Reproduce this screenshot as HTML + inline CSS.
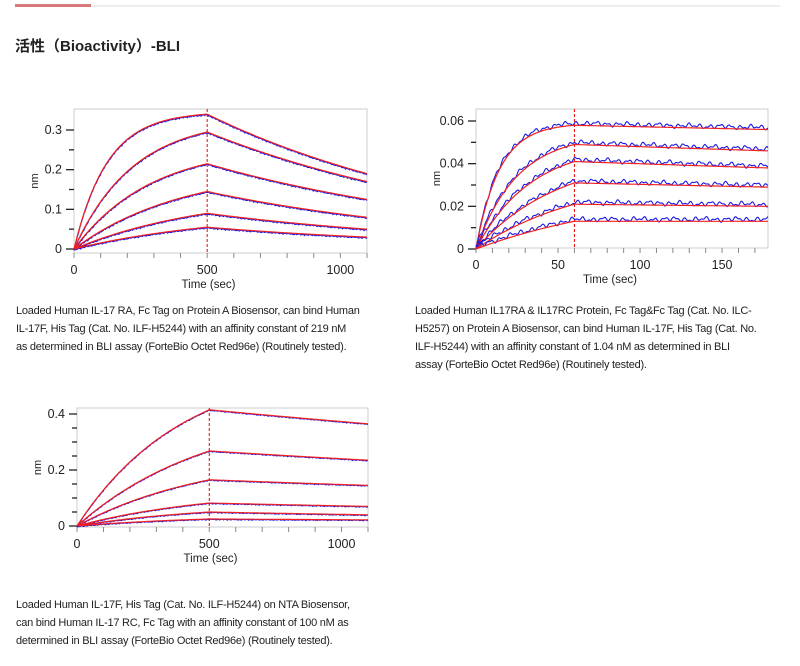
<!DOCTYPE html>
<html><head><meta charset="utf-8"><style>
body{margin:0;background:#fff;width:800px;height:666px;position:relative;overflow:hidden;font-family:"Liberation Sans","Noto Sans CJK SC",sans-serif;}
.abs{position:absolute}
.cap{position:absolute;font-size:11px;line-height:18px;color:#222;letter-spacing:-0.25px;white-space:nowrap}
svg text{font-family:"Liberation Sans",sans-serif;fill:#222}
</style></head><body>
<div class="abs" style="left:15px;top:5px;width:765px;height:2px;background:#eee"></div>
<div class="abs" style="left:15px;top:4px;width:76px;height:3px;background:#d87a7a"></div>
<div class="abs" style="left:15px;top:35px;font-size:15px;font-weight:bold;color:#222">活性（Bioactivity）-BLI</div>
<svg class="abs" style="left:0;top:0" width="800" height="666" id="svg"></svg>
<div class="cap" style="left:16px;top:302px">Loaded Human IL-17 RA, Fc Tag on Protein A Biosensor, can bind Human<br>IL-17F, His Tag (Cat. No. ILF-H5244) with an affinity constant of 219 nM<br>as determined in BLI assay (ForteBio Octet Red96e) (Routinely tested).</div>
<div class="cap" style="left:415px;top:302px">Loaded Human IL17RA &amp; IL17RC Protein, Fc Tag&amp;Fc Tag (Cat. No. ILC-<br>H5257) on Protein A Biosensor, can bind Human IL-17F, His Tag (Cat. No.<br>ILF-H5244) with an affinity constant of 1.04 nM as determined in BLI<br>assay (ForteBio Octet Red96e) (Routinely tested).</div>
<div class="cap" style="left:16px;top:596px">Loaded Human IL-17F, His Tag (Cat. No. ILF-H5244) on NTA Biosensor,<br>can bind Human IL-17 RC, Fc Tag with an affinity constant of 100 nM as<br>determined in BLI assay (ForteBio Octet Red96e) (Routinely tested).</div>
<script>
// Chart 1
const c1Peak=[0.34,0.295,0.215,0.145,0.09,0.055];
const c1End=[0.19,0.17,0.125,0.08,0.05,0.03];
const c1Kobs=[0.008,0.0045,0.0035,0.0025,0.002,0.0018];
const c1YTicks=[0,0.1,0.2,0.3];
const c1XTicks=[0,500,1000];
// Chart 2
const c2Peak=[0.058,0.049,0.041,0.031,0.021,0.013];
const c2End=[0.056,0.046,0.038,0.029,0.020,0.013];
const c2Kobs=[0.07,0.04,0.03,0.02,0.015,0.01];
const c2YTicks=[0,0.02,0.04,0.06];
const c2XTicks=[0,50,100,150];
// Chart 3
const c3Peak=[0.415,0.268,0.165,0.082,0.05,0.025];
const c3End=[0.365,0.235,0.145,0.07,0.04,0.022];
const c3Kobs=[0.0025,0.002,0.002,0.002,0.002,0.002];
const c3YTicks=[0,0.2,0.4];
const c3XTicks=[0,500,1000];

const svg=document.getElementById('svg');
const NS='http://www.w3.org/2000/svg';
function mk(tag,attrs,parent){const e=document.createElementNS(NS,tag);for(const k in attrs)e.setAttribute(k,attrs[k]);(parent||svg).appendChild(e);return e;}

function chart(o){
  const g=mk('g',{});
  
  
  const X=v=>o.x0+(v-o.xmin)/(o.xmax-o.xmin)*(o.x1-o.x0);
  const Y=v=>o.yb-(v/o.ymax)*(o.yb-o.yt);
  const box=mk('rect',{x:o.x0,y:o.top,width:o.x1-o.x0,height:o.bot-o.top,fill:'none',stroke:'#ccc','stroke-width':1},g);
  
  
  for(let v=0;v<=o.ymax+1e-9;v+=o.yminor){
    const major=o.yTicks.some(t=>Math.abs(t-v)<1e-9);
    mk('line',{x1:o.x0-(major?8:5),x2:o.x0,y1:Y(v),y2:Y(v),stroke:'#222','stroke-width':1.3},g);
  }
  o.yTicks.forEach(t=>{const tx=mk('text',{x:o.x0-12,y:Y(t)+4,'font-size':12.5,'text-anchor':'end'},g);tx.textContent=String(t);
    });
  for(let v=o.xmin;v<=o.xmax+1e-9;v+=o.xminor){
    mk('line',{x1:X(v),x2:X(v),y1:o.bot,y2:o.bot+5,stroke:'#888','stroke-width':1},g);
  }
  o.xTicks.forEach(t=>{const tx=mk('text',{x:X(t),y:o.bot+21,'font-size':12.5,'text-anchor':'middle'},g);tx.textContent=String(t);
    });
  const xl=mk('text',{x:(o.x0+o.x1)/2-12,y:o.bot+35,'font-size':11.5,'text-anchor':'middle'},g);
  xl.textContent='Time (sec)';
  
  const yl=mk('text',{x:0,y:0,'font-size':11,'text-anchor':'middle',transform:`translate(${o.x0-36},${(o.top+o.bot)/2}) rotate(-90)`},g);
  yl.textContent='nm';
  const dl=mk('line',{x1:X(o.xt),x2:X(o.xt),y1:o.top,y2:o.bot,stroke:'#e00','stroke-width':1,'stroke-dasharray':'3,2'},g);
  
  o.peak.forEach((p,i)=>{
    const k=o.kobs[i];const req=p/(1-Math.exp(-k*(o.xt-o.xmin)));
    const kd=Math.log(p/o.end[i])/(o.xmax-o.xt);
    const f=t=>t<=o.xt?req*(1-Math.exp(-k*(t-o.xmin))):p*Math.exp(-kd*(t-o.xt));
    let dFit='',dObs='';const N=300;
    for(let j=0;j<=N;j++){const t=o.xmin+(o.xmax-o.xmin)*j/N;
      const q=j*o.freq;
      const w=o.noise*(Math.sin(q*1.7+i*3)+0.7*Math.sin(q*3.1+i)+0.5*Math.sin(q*0.55+i*2));
      dFit+=(j?'L':'M')+X(t).toFixed(1)+' '+Y(f(t)).toFixed(1);
      dObs+=(j?'L':'M')+X(t).toFixed(1)+' '+(Y(f(t))+w+o.offs).toFixed(1);}
    const ob=mk('path',{d:dObs,fill:'none',stroke:'#1a1ae6','stroke-width':1.1},g);
    
    const fi=mk('path',{d:dFit,fill:'none',stroke:'#f02020','stroke-width':1.2},g);
    
  });
}
chart({name:'chart-1',x0:74,x1:367,xmin:0,xmax:1100,top:109,bot:253,yb:249,yt:130,ymax:0.3,yTicks:c1YTicks,yminor:0.05,xTicks:c1XTicks,xminor:100,xt:500,peak:c1Peak,end:c1End,kobs:c1Kobs,noise:0.4,freq:1,offs:0.8});
chart({name:'chart-2',x0:476,x1:768,xmin:0,xmax:178,top:109,bot:248,yb:249,yt:121,ymax:0.06,yTicks:c2YTicks,yminor:0.01,xTicks:c2XTicks,xminor:10,xt:60,peak:c2Peak,end:c2End,kobs:c2Kobs,noise:1.4,freq:0.35,offs:-2});
chart({name:'chart-3',x0:77,x1:368,xmin:0,xmax:1100,top:408,bot:527,yb:526,yt:414,ymax:0.4,yTicks:c3YTicks,yminor:0.05,xTicks:c3XTicks,xminor:100,xt:500,peak:c3Peak,end:c3End,kobs:c3Kobs,noise:0.3,freq:1,offs:0.5});
</script>
</body></html>
